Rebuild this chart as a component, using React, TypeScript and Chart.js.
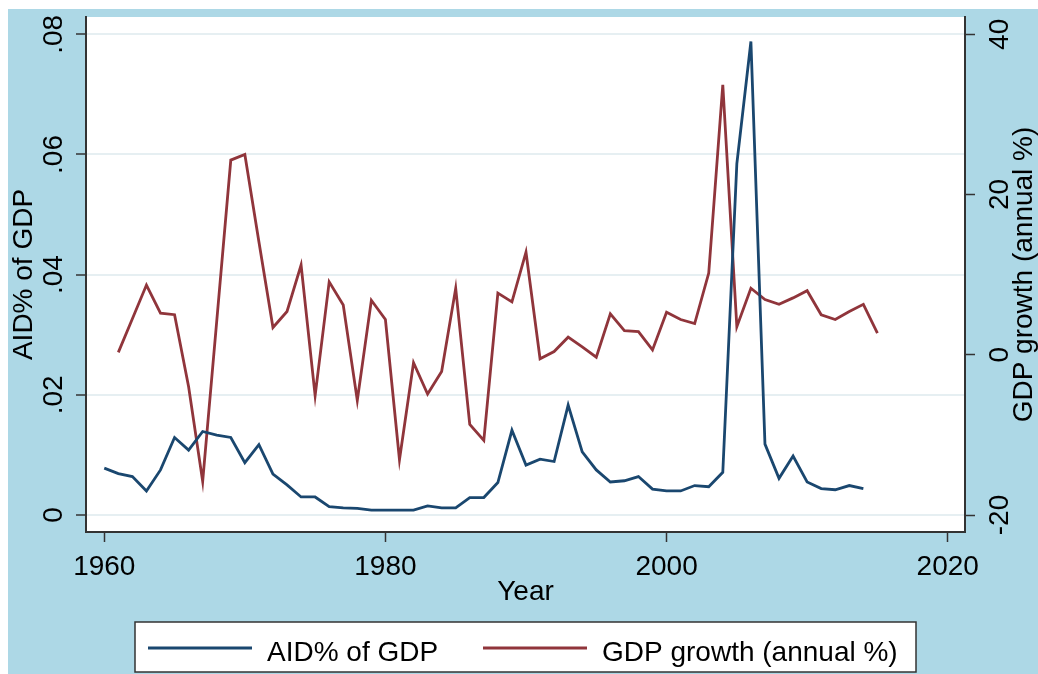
import React, { useEffect, useRef } from "react";
import { Chart, registerables } from "chart.js";

Chart.register(...registerables);

// Years covered by the two series
const years = [
  1960, 1961, 1962, 1963, 1964, 1965, 1966, 1967, 1968, 1969,
  1970, 1971, 1972, 1973, 1974, 1975, 1976, 1977, 1978, 1979,
  1980, 1981, 1982, 1983, 1984, 1985, 1986, 1987, 1988, 1989,
  1990, 1991, 1992, 1993, 1994, 1995, 1996, 1997, 1998, 1999,
  2000, 2001, 2002, 2003, 2004, 2005, 2006, 2007, 2008, 2009,
  2010, 2011, 2012, 2013, 2014, 2015,
];

// Aid received as a share of GDP (left axis)
const aidShare: (number | null)[] = [
  0.0078, 0.0069, 0.0064, 0.004, 0.0075, 0.0129, 0.0108, 0.0139, 0.0133, 0.0129,
  0.0087, 0.0117, 0.0068, 0.005, 0.003, 0.003, 0.0014, 0.0012, 0.0011, 0.0008,
  0.0008, 0.0008, 0.0008, 0.0015, 0.0012, 0.0012, 0.0029, 0.0029, 0.0054, 0.0141,
  0.0083, 0.0093, 0.0089, 0.0183, 0.0105, 0.0075, 0.0055, 0.0057, 0.0064, 0.0043,
  0.004, 0.004, 0.0049, 0.0047, 0.0071, 0.0585, 0.0788, 0.0118, 0.0061, 0.0098,
  0.0055, 0.0044, 0.0042, 0.0049, 0.0044, null,
];

// GDP growth, annual % (right axis)
const gdpGrowth: (number | null)[] = [
  null, 0.3, 4.5, 8.7, 5.2, 5.0, -4.0, -15.8, 4.2, 24.3,
  25.0, 14.1, 3.4, 5.4, 11.2, -5.1, 9.1, 6.2, -5.7, 6.8,
  4.4, -13.1, -1.0, -4.9, -2.1, 8.3, -8.7, -10.7, 7.7, 6.6,
  12.8, -0.5, 0.4, 2.2, 1.0, -0.3, 5.1, 3.0, 2.9, 0.6,
  5.3, 4.4, 3.9, 10.2, 33.7, 3.5, 8.3, 6.9, 6.3, 7.1,
  8.0, 5.0, 4.4, 5.4, 6.3, 2.7,
];

const yearTicks = [1960, 1980, 2000, 2020];
const yearTickLabels = ["1960", "1980", "2000", "2020"];
const aidTicks = [0, 0.02, 0.04, 0.06, 0.08];
const aidTickLabels = ["0", ".02", ".04", ".06", ".08"];
const growthTicks = [-20, 0, 20, 40];
const growthTickLabels = ["-20", "0", "20", "40"];

const seriesLabels = ["AID% of GDP", "GDP growth (annual %)"];

const NAVY = "#1a476f";
const MAROON = "#90353b";
const BG = "#add8e6";
const AXIS = "#333333";
const GRID = "#e6eff2";
const FONT = '28px "Liberation Sans", Arial, sans-serif';
const LINE_W = 2.8;

const toPoints = (vals: (number | null)[]) =>
  years
    .map((yr, i) => ({ x: yr, y: vals[i] }))
    .filter((p) => p.y !== null) as { x: number; y: number }[];

const setTicks = (values: number[]) => (scale: any) => {
  scale.ticks = values.map((v) => ({ value: v }));
};

const decorations = {
  id: "stataDecorations",
  beforeDraw(chart: any) {
    const { ctx, chartArea: a, width, height } = chart;
    ctx.save();
    ctx.fillStyle = BG;
    ctx.fillRect(0, 0, width, height);
    ctx.fillStyle = "#ffffff";
    ctx.fillRect(a.left, a.top, a.right - a.left, a.bottom - a.top);
    ctx.restore();
  },
  afterDraw(chart: any) {
    const { ctx, chartArea: a, scales } = chart;
    const midX = (a.left + a.right) / 2;
    const midY = (a.top + a.bottom) / 2;
    ctx.save();
    ctx.font = FONT;
    ctx.fillStyle = "#000000";
    ctx.textBaseline = "alphabetic";
    ctx.textAlign = "center";

    const vertical = (text: string, x: number, y: number) => {
      ctx.save();
      ctx.translate(x, y);
      ctx.rotate(-Math.PI / 2);
      ctx.fillText(text, 0, 0);
      ctx.restore();
    };

    // x tick labels and title
    yearTicks.forEach((v, i) => {
      ctx.fillText(yearTickLabels[i], scales.x.getPixelForValue(v), a.bottom + 43);
    });
    ctx.fillText("Year", midX, a.bottom + 68);

    // left axis labels
    aidTicks.forEach((v, i) => {
      vertical(aidTickLabels[i], a.left - 24, scales.y.getPixelForValue(v));
    });
    vertical(seriesLabels[0], a.left - 54, midY);

    // right axis labels
    growthTicks.forEach((v, i) => {
      vertical(growthTickLabels[i], a.right + 43, scales.y1.getPixelForValue(v));
    });
    vertical(seriesLabels[1], a.right + 67, midY);

    // legend box
    const boxW = 781;
    const boxL = midX - boxW / 2;
    const boxT = a.bottom + 90;
    const boxH = 50;
    ctx.fillStyle = "#ffffff";
    ctx.fillRect(boxL, boxT, boxW, boxH);
    ctx.strokeStyle = AXIS;
    ctx.lineWidth = 1.5;
    ctx.strokeRect(boxL, boxT, boxW, boxH);

    const entries = [
      { color: NAVY, label: seriesLabels[0], x: boxL + 13 },
      { color: MAROON, label: seriesLabels[1], x: boxL + 348 },
    ];
    ctx.textAlign = "left";
    entries.forEach((e) => {
      ctx.strokeStyle = e.color;
      ctx.lineWidth = LINE_W;
      ctx.beginPath();
      ctx.moveTo(e.x, boxT + 26);
      ctx.lineTo(e.x + 104, boxT + 26);
      ctx.stroke();
      ctx.fillStyle = "#000000";
      ctx.fillText(e.label, e.x + 119, boxT + 39);
    });
    ctx.restore();
  },
};

export default function App() {
  const canvasRef = useRef<HTMLCanvasElement | null>(null);

  useEffect(() => {
    const canvas = canvasRef.current;
    if (!canvas) return;
    const chart = new Chart(canvas, {
      type: "line",
      data: {
        datasets: [
          {
            label: seriesLabels[0],
            data: toPoints(aidShare),
            borderColor: NAVY,
            borderWidth: LINE_W,
            pointRadius: 0,
            tension: 0,
            yAxisID: "y",
          },
          {
            label: seriesLabels[1],
            data: toPoints(gdpGrowth),
            borderColor: MAROON,
            borderWidth: LINE_W,
            pointRadius: 0,
            tension: 0,
            yAxisID: "y1",
          },
        ],
      },
      options: {
        animation: false,
        responsive: false,
        devicePixelRatio: 1,
        layout: { padding: { top: 8, left: 0, right: 0, bottom: 0 } },
        plugins: { legend: { display: false }, tooltip: { enabled: false } },
        scales: {
          x: {
            type: "linear",
            min: 1958.7,
            max: 2021.23,
            afterBuildTicks: setTicks(yearTicks),
            afterFit: (s: any) => {
              s.height = 142;
            },
            ticks: { display: false },
            grid: {
              drawOnChartArea: false,
              tickColor: AXIS,
              tickWidth: 1.5,
              tickLength: 10,
            },
            border: { color: AXIS, width: 2 },
          },
          y: {
            type: "linear",
            position: "left",
            min: -0.00283,
            max: 0.08288,
            afterBuildTicks: setTicks(aidTicks),
            afterFit: (s: any) => {
              s.width = 78;
            },
            ticks: { display: false },
            grid: {
              color: GRID,
              lineWidth: 2,
              tickColor: AXIS,
              tickWidth: 1.5,
              tickLength: 10,
            },
            border: { color: AXIS, width: 2 },
          },
          y1: {
            type: "linear",
            position: "right",
            min: -22.12,
            max: 42.16,
            afterBuildTicks: setTicks(growthTicks),
            afterFit: (s: any) => {
              s.width = 73;
            },
            ticks: { display: false },
            grid: {
              drawOnChartArea: false,
              tickColor: AXIS,
              tickWidth: 1.5,
              tickLength: 10,
            },
            border: { color: AXIS, width: 2 },
          },
        },
      },
      plugins: [decorations],
    });
    return () => chart.destroy();
  }, []);

  return (
    <div style={{ position: "fixed", left: 8, top: 9, width: 1030, height: 665 }}>
      <canvas ref={canvasRef} width={1030} height={665} />
    </div>
  );
}
